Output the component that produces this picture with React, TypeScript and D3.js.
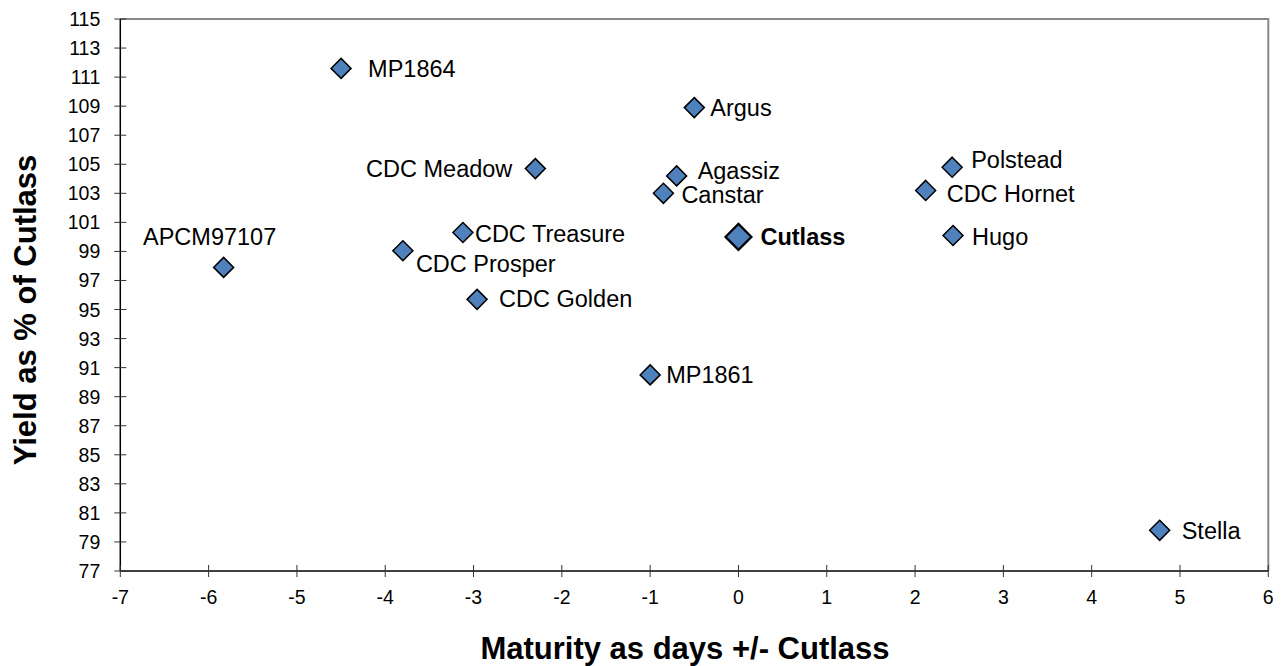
import React from "react";
import * as d3 from "d3";

const names = [
  "MP1864", "Argus", "CDC Meadow", "Agassiz", "Canstar", "Polstead", "CDC Hornet",
  "Cutlass", "Hugo", "CDC Treasure", "APCM97107", "CDC Prosper", "CDC Golden", "MP1861", "Stella",
];
const maturity = [-4.5, -0.5, -2.3, -0.7, -0.85, 2.42, 2.12, 0, 2.43, -3.12, -5.83, -3.8, -2.96, -1.0, 4.77];
const yieldPct = [111.6, 108.9, 104.7, 104.2, 103.0, 104.8, 103.2, 100.0, 100.1, 100.3, 97.9, 99.05, 95.7, 90.5, 79.8];

const xTicks = [-7, -6, -5, -4, -3, -2, -1, 0, 1, 2, 3, 4, 5, 6];
const yTicks = d3.range(77, 116, 2);

const xTitle = "Maturity as days +/- Cutlass";
const yTitle = "Yield as % of Cutlass";

// label layout (offsets from marker centre, in px)
const labelDx = [27, 16, -23, 21, 18, 19, 21, 22, 19, 12, -14, 13, 22, 16, 22];
const labelDy = [0, 0, 0, -5, 1, -8, 3, 0, 1, 1, -31, 13, -1, 0, 0];
const labelAnchor = ["start", "start", "end", "start", "start", "start", "start", "start", "start", "start", "middle", "start", "start", "start", "start"];

const W = 1286;
const H = 666;
const margin = { left: 120.3, right: 1268.3, top: 19, bottom: 571 };
const FONT = "Arial, 'Liberation Sans', sans-serif";

export default function App() {
  const x = d3.scaleLinear().domain([-7, 6]).range([margin.left, margin.right]);
  const y = d3.scaleLinear().domain([77, 115]).range([margin.bottom, margin.top]);
  const diamond = (r: number) => `M0,${-r}L${r},0L0,${r}L${-r},0Z`;

  return (
    <svg
      width={W}
      height={H}
      style={{ position: "absolute", left: 0, top: 0, background: "#fff" }}
      fontFamily={FONT}
    >
      <rect x={0} y={0} width={W} height={H} fill="#fff" />
      {/* plot border top/right */}
      <path
        d={`M${margin.left},${margin.top}H${margin.right}V${margin.bottom}`}
        fill="none"
        stroke="#888"
        strokeWidth={2}
      />
      {/* axes */}
      <line x1={margin.left} x2={margin.left} y1={margin.top} y2={margin.bottom} stroke="#000" strokeWidth={1.5} />
      <line x1={margin.left} x2={margin.right} y1={margin.bottom} y2={margin.bottom} stroke="#000" strokeWidth={1.5} />
      {yTicks.map((t) => (
        <g key={"y" + t}>
          <line x1={margin.left - 6} x2={margin.left + 6} y1={y(t)} y2={y(t)} stroke="#333" strokeWidth={1} />
          <text x={margin.left - 20} y={y(t)} dy="0.36em" textAnchor="end" fontSize={19.5} fill="#000">
            {t}
          </text>
        </g>
      ))}
      {xTicks.map((t) => (
        <g key={"x" + t}>
          <line x1={x(t)} x2={x(t)} y1={margin.bottom - 6} y2={margin.bottom + 6} stroke="#333" strokeWidth={1} />
          <text x={x(t)} y={597} dy="0.36em" textAnchor="middle" fontSize={19.5} fill="#000">
            {t}
          </text>
        </g>
      ))}
      {/* axis titles */}
      <text x={685} y={648} dy="0.36em" textAnchor="middle" fontSize={31} fontWeight="bold" fill="#000">
        {xTitle}
      </text>
      <text
        transform={`translate(25,310) rotate(-90)`}
        dy="0.36em"
        textAnchor="middle"
        fontSize={31}
        fontWeight="bold"
        fill="#000"
      >
        {yTitle}
      </text>
      {/* points */}
      {names.map((n, i) => {
        const cx = x(maturity[i]);
        const cy = y(yieldPct[i]);
        const isRef = n === "Cutlass";
        return (
          <g key={n}>
            <path
              d={diamond(isRef ? 13 : 10)}
              transform={`translate(${cx},${cy})`}
              fill="#4F81BD"
              stroke="#000"
              strokeWidth={isRef ? 2.2 : 1.5}
            />
            <text
              x={cx + labelDx[i]}
              y={cy + labelDy[i]}
              dy="0.36em"
              textAnchor={labelAnchor[i] as any}
              fontSize={23.5}
              fontWeight={isRef ? "bold" : "normal"}
              fill="#000"
            >
              {n}
            </text>
          </g>
        );
      })}
    </svg>
  );
}
